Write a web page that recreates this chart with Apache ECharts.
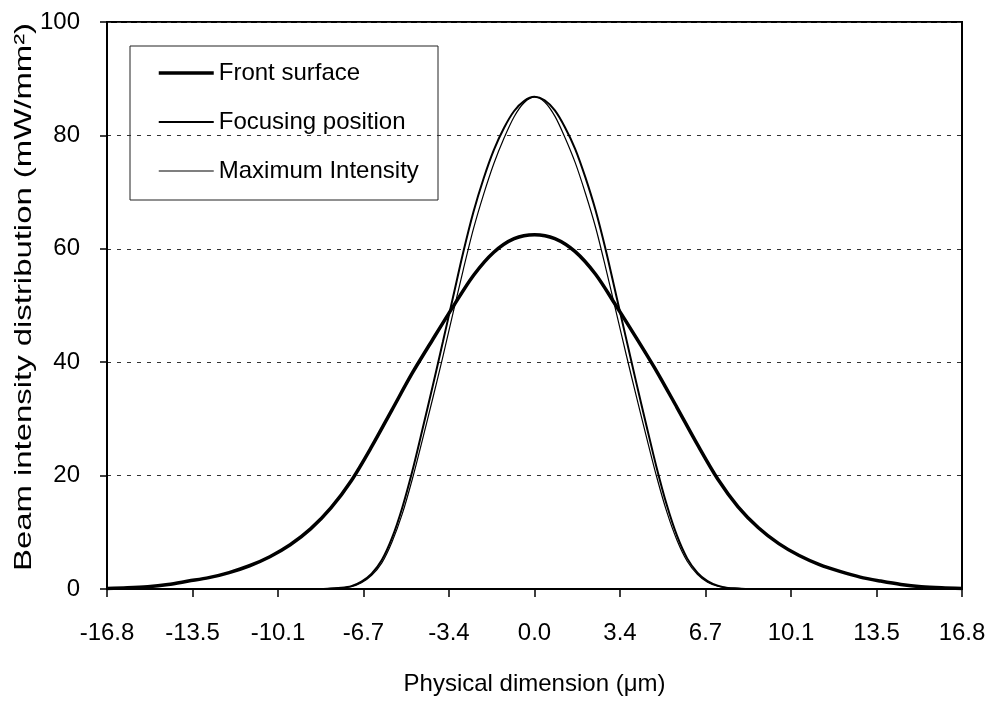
<!DOCTYPE html>
<html>
<head>
<meta charset="utf-8">
<script src="https://cdn.jsdelivr.net/npm/echarts@6/dist/echarts.min.js"></script>
<style>
  html, body { margin: 0; padding: 0; background: #fff; }
  #chart { width: 992px; height: 702px; }
</style>
</head>
<body>
<div id="chart"></div>
<script>
// Axis range and tick labels (physical dimension, µm)
const X_MIN = -16.8;
const X_MAX = 16.8;
const X_STEP = 3.36;
const xTickLabels = ['-16.8', '-13.5', '-10.1', '-6.7', '-3.4', '0.0', '3.4', '6.7', '10.1', '13.5', '16.8'];

// Front surface profile, sampled every 0.8 µm
const frontX = [-16.8, -16.0, -15.2, -14.4, -13.6, -12.8, -12.0, -11.2, -10.4, -9.6, -8.8,
  -8.0, -7.2, -6.4, -5.6, -4.8, -4.0, -3.2, -2.4, -1.6, -0.8, 0.0,
  0.8, 1.6, 2.4, 3.2, 4.0, 4.8, 5.6, 6.4, 7.2, 8.0,
  8.8, 9.6, 10.4, 11.2, 12.0, 12.8, 13.6, 14.4, 15.2, 16.0, 16.8];
const frontY = [0.1, 0.2, 0.4, 0.8, 1.4, 2.0, 2.9, 4.1, 5.7, 7.8, 10.6,
  14.3, 19.1, 25.1, 31.6, 38.1, 44.0, 49.8, 55.3, 59.4, 61.8, 62.5,
  61.8, 59.5, 55.5, 50.0, 44.3, 38.4, 32.0, 25.5, 19.4, 14.5,
  10.8, 8.0, 5.9, 4.3, 3.1, 2.1, 1.4, 0.8, 0.4, 0.2, 0.1];

// Focusing position and maximum intensity profiles, sampled every 0.4 µm near the centre
const narrowX = [-16.8, -8.8, -8.4, -8.0, -7.6, -7.2, -6.8, -6.4, -6.0, -5.6, -5.2, -4.8,
  -4.4, -4.0, -3.6, -3.2, -2.8, -2.4, -2.0, -1.6, -1.2, -0.8, -0.4, 0.0,
  0.4, 0.8, 1.2, 1.6, 2.0, 2.4, 2.8, 3.2, 3.6, 4.0, 4.4,
  4.8, 5.2, 5.6, 6.0, 6.4, 6.8, 7.2, 7.6, 8.0, 8.4, 8.8, 16.8];
const focusY = [0, 0, 0, 0.1, 0.2, 0.5, 1.3, 2.7, 5.1, 9.0, 14.3, 20.8,
  28.2, 35.8, 43.6, 51.5, 59.4, 66.5, 72.4, 77.4, 81.3, 84.3, 86.1, 86.8,
  86.2, 84.4, 81.4, 77.6, 72.6, 66.8, 59.8, 52.0, 44.2, 36.4, 28.8,
  21.4, 14.8, 9.4, 5.4, 2.9, 1.4, 0.6, 0.2, 0.1, 0, 0, 0];
const maxIntY = [0, 0, 0, 0.1, 0.2, 0.4, 1.1, 2.4, 4.6, 8.3, 13.2, 19.4,
  26.4, 33.6, 41.0, 48.7, 56.3, 63.5, 69.6, 75.0, 79.5, 83.3, 85.8, 86.8,
  85.9, 83.4, 79.6, 75.2, 69.8, 63.8, 56.6, 49.0, 41.4, 34.0, 26.8,
  19.8, 13.6, 8.6, 4.9, 2.6, 1.2, 0.5, 0.2, 0.1, 0, 0, 0];

const seriesNames = ['Front surface', 'Focusing position', 'Maximum Intensity'];
const lineWidths = [3.5, 2, 1.2];

const FONT = '"Liberation Sans", Arial, Helvetica, sans-serif';

function pairs(xs, ys) {
  return xs.map((x, i) => [x, ys[i]]);
}

const chart = echarts.init(document.getElementById('chart'), null, { renderer: 'canvas' });

const option = {
  animation: false,
  backgroundColor: '#ffffff',
  textStyle: { fontFamily: FONT, color: '#000' },
  grid: {
    left: 107, right: 30, top: 22, bottom: 113,
    show: true, borderColor: '#000', borderWidth: 2, backgroundColor: 'transparent'
  },
  xAxis: {
    type: 'value',
    min: X_MIN, max: X_MAX, interval: X_STEP,
    axisLine: { show: true, onZero: false, lineStyle: { color: '#000', width: 2 } },
    axisTick: { show: true, length: 8, lineStyle: { color: '#000', width: 1.5 } },
    axisLabel: {
      margin: 32, fontSize: 24, color: '#000', fontFamily: FONT,
      formatter: v => xTickLabels[Math.round((v - X_MIN) / X_STEP)] || ''
    },
    splitLine: { show: false },
    name: 'Physical dimension (μm)',
    nameLocation: 'middle', nameGap: 83,
    nameTextStyle: { fontSize: 24, color: '#000', fontFamily: FONT }
  },
  yAxis: {
    type: 'value',
    min: 0, max: 100, interval: 20,
    axisLine: { show: true, onZero: false, lineStyle: { color: '#000', width: 2 } },
    axisTick: { show: true, length: 7, lineStyle: { color: '#000', width: 1.5 } },
    axisLabel: { margin: 27, fontSize: 24, color: '#000', fontFamily: FONT },
    splitLine: { show: true, lineStyle: { color: '#333', width: 1, type: [4, 6] } }
  },
  legend: {
    data: seriesNames.map((name, i) => ({
      name: name,
      itemStyle: { opacity: 0 },
      lineStyle: { color: '#000', width: lineWidths[i] }
    })),
    orient: 'vertical',
    left: 157, top: 61,
    padding: 0,
    itemWidth: 55, itemHeight: 14, itemGap: 25,
    textStyle: { fontSize: 24, color: '#000', fontFamily: FONT }
  },
  graphic: [
    {
      type: 'rect', z: 1,
      shape: { x: 130, y: 46, width: 308, height: 154 },
      style: { fill: 'transparent', stroke: '#222', lineWidth: 1 }
    },
    {
      type: 'text',
      x: 24, y: 297,
      rotation: Math.PI / 2,
      scaleX: 1.37,
      style: {
        text: 'Beam intensity distribution (mW/mm²)',
        fontSize: 24, fontFamily: FONT, fill: '#000',
        align: 'center', verticalAlign: 'middle'
      }
    }
  ],
  series: seriesNames.map((name, i) => ({
    name: name, type: 'line', symbol: 'none', smooth: 0.3,
    data: i === 0 ? pairs(frontX, frontY) : pairs(narrowX, i === 1 ? focusY : maxIntY),
    lineStyle: { color: '#000', width: lineWidths[i] },
    itemStyle: { color: '#000' },
    z: 3
  }))
};

chart.setOption(option);
</script>
</body>
</html>
